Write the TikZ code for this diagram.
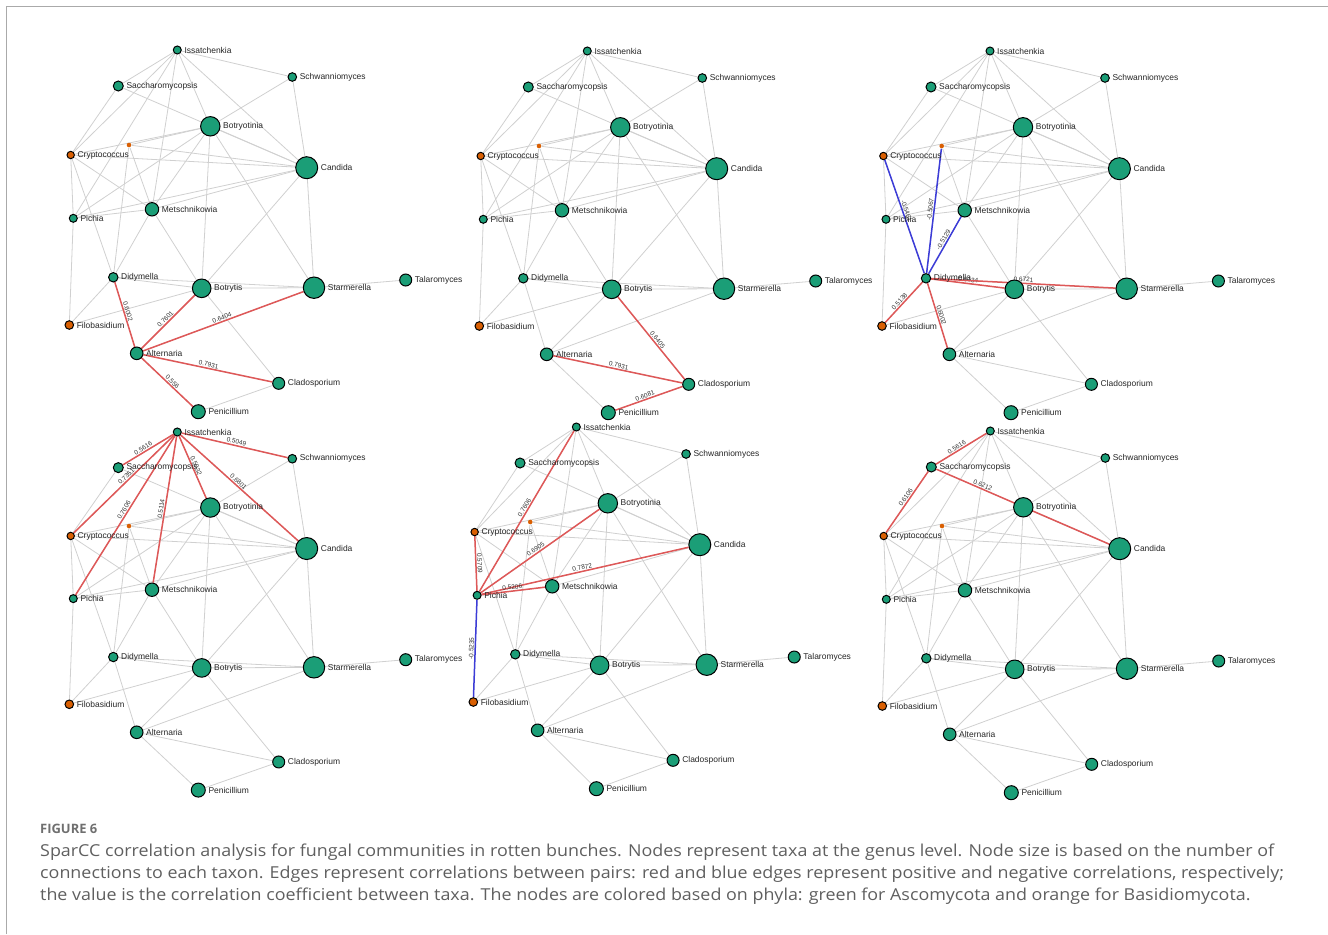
\documentclass[tikz,border=0pt]{standalone}
\usepackage{fontspec}
\setmainfont{Liberation Sans}
\newfontfamily\capfont{Open Sans}
\pgfdeclarelayer{bg}\pgfdeclarelayer{mid}
\pgfsetlayers{bg,mid,main}
\definecolor{ngreen}{RGB}{27,158,119}
\definecolor{norange}{RGB}{217,95,2}
\definecolor{egray}{RGB}{208,208,208}
\definecolor{ered}{RGB}{222,88,88}
\definecolor{eblue}{RGB}{60,60,215}
\definecolor{captxt}{RGB}{95,95,95}
\definecolor{framegray}{RGB}{170,170,170}
\tikzset{
 tx/.style={circle, draw=black, line width=1bp, inner sep=0pt, fill=ngreen},
 bx/.style={tx, fill=norange},
 nlab/.style={font=\fontsize{8.5}{10}\selectfont, text=black!85, inner sep=0pt},
 every label/.style={nlab},
 label distance=2.5bp,
 gedge/.style={draw=egray, line width=0.8bp},
 pedge/.style={draw=ered, line width=1.5bp},
 nedge/.style={draw=eblue, line width=1.5bp},
 elab/.style={font=\fontsize{6.5}{7}\selectfont, sloped, above, inner sep=0.8bp, text=black!80},
 captl/.style={anchor=base west, inner sep=0pt, text=captxt, font=\capfont\fontsize{16.5}{19}\selectfont},
}
\newcommand\capline[1]{\scalebox{1.088}[1]{#1}}
\newcommand\fpanel[1]{%
 \node[tx,minimum size=8bp,label=right:Issatchenkia] (#1I) at (177.3,50) {};
 \node[tx,minimum size=10bp,label=right:Saccharomycopsis] (#1Sa) at (118.3,86) {};
 \node[tx,minimum size=8.6bp,label=right:Schwanniomyces] (#1Sw) at (292.3,77) {};
 \node[tx,minimum size=19.4bp,label=right:Botryotinia] (#1Bt) at (210.3,126.3) {};
 \node[bx,minimum size=7.4bp,label=right:Cryptococcus] (#1Cr) at (70.7,155) {};
 \node[bx,draw=none,minimum size=4.6bp] (#1D0) at (129,145) {};
 \node[tx,minimum size=22bp,label=right:Candida] (#1C) at (306.7,167.7) {};
 \node[tx,minimum size=13.4bp,label=right:Metschnikowia] (#1M) at (152,209.3) {};
 \node[tx,minimum size=8bp,label=right:Pichia] (#1Pi) at (73.3,218.3) {};
 \node[tx,minimum size=9.4bp,label=right:Didymella] (#1Dy) at (113.3,277.3) {};
 \node[tx,minimum size=18.6bp,label=right:Botrytis] (#1Bs) at (201.7,288.3) {};
 \node[tx,minimum size=21.4bp,label=right:Starmerella] (#1St) at (314,287.7) {};
 \node[tx,minimum size=12bp,label=right:Talaromyces] (#1Ta) at (405.7,280) {};
 \node[bx,minimum size=8.6bp,label=right:Filobasidium] (#1F) at (69.3,325) {};
 \node[tx,minimum size=12.6bp,label=right:Alternaria] (#1A) at (136.7,353.3) {};
 \node[tx,minimum size=12bp,label=right:Cladosporium] (#1Cl) at (278.7,383.3) {};
 \node[tx,minimum size=14bp,label=right:Penicillium] (#1P) at (198.3,411.7) {};
 \begin{pgfonlayer}{bg}
 \foreach \u/\v in {I/Sa,I/Cr,I/Pi,I/M,I/Bt,I/C,I/Sw,Sa/Cr,Sa/C,Sw/Bt,Sw/C,
   Cr/Pi,Cr/M,Cr/Dy,Cr/C,Cr/Bt,D0/Bt,D0/C,D0/M,D0/Dy,Pi/Bt,Pi/M,Pi/C,Pi/F,
   M/Bt,M/C,M/Bs,M/Dy,Bt/C,Bt/Bs,Bt/St,C/St,C/Bs,Dy/Bs,Dy/St,Dy/F,Dy/A,
   Bs/St,Bs/F,Bs/A,Bs/Cl,St/Ta,St/A,A/Cl,A/P,Cl/P}{\draw[gedge] (#1\u) -- (#1\v);}
 \end{pgfonlayer}}
\newcommand\hl[6]{\begin{pgfonlayer}{mid}\draw[#4] (#1#2) -- node[elab,pos=#5]{#6} (#1#3);\end{pgfonlayer}}
\begin{document}
\begin{tikzpicture}[x=1bp,y=-1bp]
\useasboundingbox (0,0) rectangle (1328,934);
\draw[framegray, line width=1.3bp] (6.5,934) -- (6.5,6.5) -- (1328,6.5);
% panel 1
\begin{scope}
 \fpanel{a}
 \hl{a}{Dy}{A}{pedge}{0.47}{0.6002}
 \hl{a}{A}{Bs}{pedge}{0.5}{0.7601}
 \hl{a}{A}{St}{pedge}{0.5}{0.6404}
 \hl{a}{A}{Cl}{pedge}{0.5}{0.7931}
 \hl{a}{A}{P}{pedge}{0.55}{0.556}
\end{scope}
% panel 2
\begin{scope}[shift={(410,1)}]
 \fpanel{b}
 \hl{b}{Bs}{Cl}{pedge}{0.55}{0.6405}
 \hl{b}{A}{Cl}{pedge}{0.5}{0.7931}
 \hl{b}{P}{Cl}{pedge}{0.46}{0.6081}
\end{scope}
% panel 3
\begin{scope}[shift={(812.7,1)}]
 \fpanel{c}
 \hl{c}{Cr}{Dy}{nedge}{0.46}{-0.5461}
 \hl{c}{Dy}{D0}{nedge}{0.51}{-0.5067}
 \hl{c}{Dy}{M}{nedge}{0.56}{-0.5129}
 \hl{c}{Dy}{Bs}{pedge}{0.5}{0.6134}
 \hl{c}{Dy}{St}{pedge}{0.5}{0.6721}
 \hl{c}{F}{Dy}{pedge}{0.46}{0.5138}
 \hl{c}{Dy}{A}{pedge}{0.51}{0.6002}
\end{scope}
% panel 4
\begin{scope}[shift={(0,382.5)},yscale=0.99]
 \fpanel{d}
 \hl{d}{Sa}{I}{pedge}{0.44}{0.5616}
 \hl{d}{Cr}{I}{pedge}{0.55}{0.7351}
 \hl{d}{Pi}{I}{pedge}{0.52}{0.7606}
 \hl{d}{M}{I}{pedge}{0.5}{0.5114}
 \hl{d}{I}{Bt}{pedge}{0.5}{0.5032}
 \hl{d}{I}{C}{pedge}{0.47}{0.6801}
 \hl{d}{I}{Sw}{pedge}{0.51}{0.5049}
\end{scope}
% panel 5
\begin{scope}[shift={(407.2,377)},xscale=0.954]
 \fpanel{e}
 \hl{e}{Pi}{I}{pedge}{0.51}{0.7606}
 \hl{e}{Cr}{Pi}{pedge}{0.5}{0.5709}
 \hl{e}{Pi}{Bt}{pedge}{0.48}{0.6905}
 \hl{e}{Pi}{C}{pedge}{0.49}{0.7872}
 \hl{e}{Pi}{M}{pedge}{0.49}{0.5206}
 \hl{e}{F}{Pi}{nedge}{0.5}{-0.5235}
\end{scope}
% panel 6
\begin{scope}[shift={(813,381)}]
 \fpanel{f}
 \hl{f}{Sa}{I}{pedge}{0.45}{0.5616}
 \hl{f}{Cr}{Sa}{pedge}{0.54}{0.6106}
 \hl{f}{Sa}{C}{pedge}{0.26}{0.6212}
\end{scope}
% caption
\node[captl, font=\capfont\bfseries\fontsize{13}{15}\selectfont, text=captxt!90] (fig) at (40,833) {FIGURE 6};
\node[captl] (cap1) at (40,856) {\capline{SparCC correlation analysis for fungal communities in rotten bunches. Nodes represent taxa at the genus level. Node size is based on the number of}};
\node[captl] (cap2) at (40,878) {\capline{connections to each taxon. Edges represent correlations between pairs: red and blue edges represent positive and negative correlations, respectively;}};
\node[captl] (cap3) at (40,900) {\capline{the value is the correlation coefficient between taxa. The nodes are colored based on phyla: green for Ascomycota and orange for Basidiomycota.}};
\end{tikzpicture}
\end{document}
